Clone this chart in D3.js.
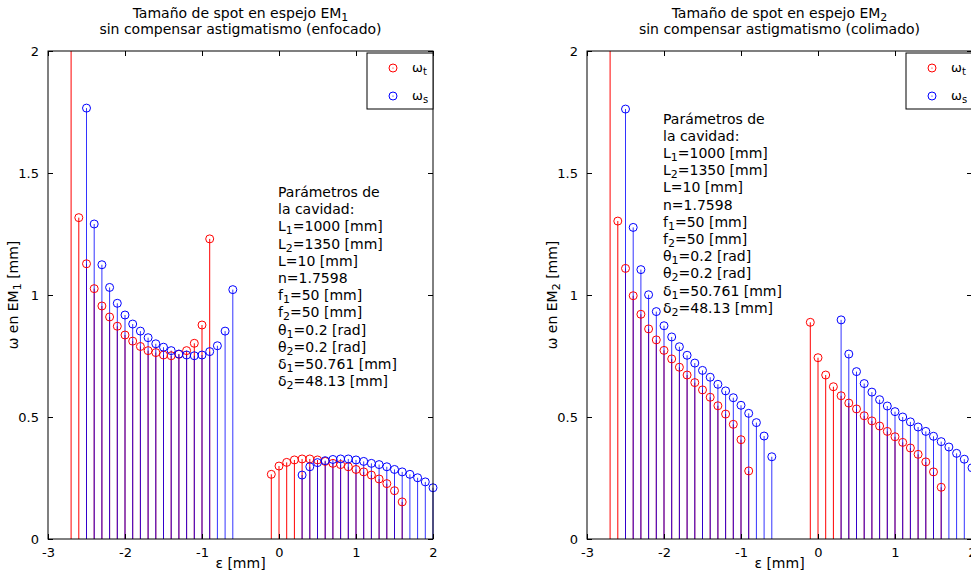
<!DOCTYPE html>
<html>
<head>
<meta charset="utf-8">
<script src="https://cdn.jsdelivr.net/npm/d3@7"></script>
<style>
	body { margin: 0; background: #fff; }
	text { font-family: "DejaVu Sans", sans-serif; fill: #000; }
</style>
</head>
<body>
<script>
"use strict";

// ε [mm] vs ω [mm], two panels (EM1 focused, EM2 collimated)
const xTicks = [-3, -2, -1, 0, 1, 2];
const yTicks = [0, 0.5, 1, 1.5, 2];

const em1Tangential = [
	[-2.7, 2.6], [-2.6, 1.317], [-2.5, 1.128], [-2.4, 1.026], [-2.3, 0.955], [-2.2, 0.91],
	[-2.1, 0.872], [-2.0, 0.836], [-1.9, 0.811], [-1.8, 0.789], [-1.7, 0.772], [-1.6, 0.764],
	[-1.5, 0.754], [-1.4, 0.751], [-1.3, 0.757], [-1.2, 0.772], [-1.1, 0.802], [-1.0, 0.877],
	[-0.9, 1.23],
	[-0.1, 0.265], [0.0, 0.299], [0.1, 0.314], [0.2, 0.324], [0.3, 0.328], [0.4, 0.328],
	[0.5, 0.324], [0.6, 0.318], [0.7, 0.31], [0.8, 0.305], [0.9, 0.296], [1.0, 0.285],
	[1.1, 0.275], [1.2, 0.262], [1.3, 0.246], [1.4, 0.227], [1.5, 0.198], [1.6, 0.152]
];
const em1Sagittal = [
	[-2.5, 1.766], [-2.4, 1.291], [-2.3, 1.124], [-2.2, 1.031], [-2.1, 0.966], [-2.0, 0.918],
	[-1.9, 0.881], [-1.8, 0.852], [-1.7, 0.825], [-1.6, 0.8], [-1.5, 0.786], [-1.4, 0.772],
	[-1.3, 0.758], [-1.2, 0.754], [-1.1, 0.751], [-1.0, 0.754], [-0.9, 0.768], [-0.8, 0.792],
	[-0.7, 0.852], [-0.6, 1.022],
	[0.3, 0.262], [0.4, 0.296], [0.5, 0.313], [0.6, 0.321], [0.7, 0.326], [0.8, 0.328],
	[0.9, 0.328], [1.0, 0.324], [1.1, 0.318], [1.2, 0.31], [1.3, 0.305], [1.4, 0.296],
	[1.5, 0.285], [1.6, 0.275], [1.7, 0.265], [1.8, 0.251], [1.9, 0.234], [2.0, 0.21]
];
const em2Tangential = [
	[-2.7, 2.6], [-2.6, 1.303], [-2.5, 1.109], [-2.4, 0.997], [-2.3, 0.921], [-2.2, 0.861],
	[-2.1, 0.816], [-2.0, 0.773], [-1.9, 0.738], [-1.8, 0.704], [-1.7, 0.672], [-1.6, 0.641],
	[-1.5, 0.611], [-1.4, 0.581], [-1.3, 0.546], [-1.2, 0.512], [-1.1, 0.47], [-1.0, 0.407],
	[-0.9, 0.279],
	[-0.1, 0.888], [0.0, 0.743], [0.1, 0.672], [0.2, 0.624], [0.3, 0.587], [0.4, 0.557],
	[0.5, 0.533], [0.6, 0.505], [0.7, 0.484], [0.8, 0.463], [0.9, 0.441], [1.0, 0.419],
	[1.1, 0.396], [1.2, 0.373], [1.3, 0.347], [1.4, 0.316], [1.5, 0.275], [1.6, 0.212]
];
const em2Sagittal = [
	[-2.5, 1.762], [-2.4, 1.277], [-2.3, 1.104], [-2.2, 1.001], [-2.1, 0.932], [-2.0, 0.874],
	[-1.9, 0.828], [-1.8, 0.788], [-1.7, 0.753], [-1.6, 0.721], [-1.5, 0.691], [-1.4, 0.663],
	[-1.3, 0.634], [-1.2, 0.607], [-1.1, 0.579], [-1.0, 0.548], [-0.9, 0.515], [-0.8, 0.477],
	[-0.7, 0.422], [-0.6, 0.337],
	[0.3, 0.898], [0.4, 0.758], [0.5, 0.686], [0.6, 0.637], [0.7, 0.602], [0.8, 0.571],
	[0.9, 0.545], [1.0, 0.522], [1.1, 0.5], [1.2, 0.48], [1.3, 0.459], [1.4, 0.441],
	[1.5, 0.421], [1.6, 0.399], [1.7, 0.377], [1.8, 0.351], [1.9, 0.327], [2.0, 0.292]
];

// "_" marks a one-character subscript
const paramLines = [
	"Parámetros de", "la cavidad:", "L_1=1000 [mm]", "L_2=1350 [mm]", "L=10 [mm]", "n=1.7598",
	"f_1=50 [mm]", "f_2=50 [mm]", "θ_1=0.2 [rad]", "θ_2=0.2 [rad]", "δ_1=50.761 [mm]", "δ_2=48.13 [mm]"
];

const panels = [
	{ left: 48, title: "Tamaño de spot en espejo EM_1", subtitle: "sin compensar astigmatismo (enfocado)",
		ylabel: "ω en EM_1 [mm]", t: em1Tangential, s: em1Sagittal, note: { x: 278, y: 197 } },
	{ left: 587, title: "Tamaño de spot en espejo EM_2", subtitle: "sin compensar astigmatismo (colimado)",
		ylabel: "ω en EM_2 [mm]", t: em2Tangential, s: em2Sagittal, note: { x: 663, y: 123.5 } }
];

const plotW = 385, yTop = 51, yBottom = 539;
const tickLen = 5;

const svg = d3.select("body")
				.append("svg")
				.attr("width", 971)
				.attr("height", 575);

function richText(sel, str, subSize) {
	const parts = str.split(/_(.)/);
	parts.forEach((p, i) => {
		if (p === "") return;
		if (i % 2 === 1) {
			sel.append("tspan").attr("dy", 3).style("font-size", subSize + "px").text(p);
		} else {
			const t = sel.append("tspan").text(p);
			if (i > 0) t.attr("dy", -3);
		}
	});
}

panels.forEach((p, k) => {
	const x = d3.scaleLinear().domain([-3, 2]).range([p.left, p.left + plotW]);
	const y = d3.scaleLinear().domain([0, 2]).range([yBottom, yTop]);
	const g = svg.append("g");

	g.append("clipPath")
		.attr("id", "clip" + k)
		.append("rect")
			.attr("x", p.left - 10)
			.attr("y", yTop)
			.attr("width", plotW + 20)
			.attr("height", yBottom - yTop + 10);

	const marks = g.append("g").attr("clip-path", `url(#clip${k})`);
	[[p.t, "#ff0000", 1], [p.s, "#0000ff", 0.8]].forEach(([data, color, op]) => {
		marks.append("g")
			.selectAll("line")
			.data(data)
			.join("line")
				.attr("x1", d => x(d[0]))
				.attr("x2", d => x(d[0]))
				.attr("y1", y(0))
				.attr("y2", d => y(d[1]))
				.attr("stroke", color)
				.attr("stroke-opacity", op)
				.attr("stroke-width", 1);
	});
	[[p.t, "#ff0000"], [p.s, "#0000ff"]].forEach(([data, color]) => {
		marks.append("g")
			.selectAll("circle")
			.data(data)
			.join("circle")
				.attr("cx", d => x(d[0]))
				.attr("cy", d => y(d[1]))
				.attr("r", 4)
				.attr("fill", "none")
				.attr("stroke", color)
				.attr("stroke-width", 1);
	});

	// axes box with inward ticks on all sides
	g.append("rect")
		.attr("x", p.left)
		.attr("y", yTop)
		.attr("width", plotW)
		.attr("height", yBottom - yTop)
		.attr("fill", "none")
		.attr("stroke", "#000");

	g.append("g")
		.attr("transform", `translate(0,${yBottom})`)
		.call(d3.axisBottom(x).tickValues(xTicks).tickSize(-tickLen).tickPadding(9).tickFormat(d => String(d)))
		.call(a => a.select(".domain").remove())
		.call(a => a.selectAll("text").style("font-size", "13px").style("font-family", "DejaVu Sans"));
	g.append("g")
		.attr("transform", `translate(0,${yTop})`)
		.call(d3.axisTop(x).tickValues(xTicks).tickSize(-tickLen).tickFormat(""))
		.call(a => a.select(".domain").remove());
	g.append("g")
		.attr("transform", `translate(${p.left},0)`)
		.call(d3.axisLeft(y).tickValues(yTicks).tickSize(-tickLen).tickPadding(9).tickFormat(d => String(d)))
		.call(a => a.select(".domain").remove())
		.call(a => a.selectAll("text").style("font-size", "13px").style("font-family", "DejaVu Sans"));
	g.append("g")
		.attr("transform", `translate(${p.left + plotW},0)`)
		.call(d3.axisRight(y).tickValues(yTicks).tickSize(-tickLen).tickFormat(""))
		.call(a => a.select(".domain").remove());

	const cx = p.left + plotW / 2;
	const title = g.append("text")
		.attr("x", cx)
		.attr("y", 18)
		.attr("text-anchor", "middle")
		.style("font-size", "14px");
	richText(title, p.title, 11);
	g.append("text")
		.attr("x", cx)
		.attr("y", 34)
		.attr("text-anchor", "middle")
		.style("font-size", "14px")
		.text(p.subtitle);

	g.append("text")
		.attr("x", cx)
		.attr("y", 568)
		.attr("text-anchor", "middle")
		.style("font-size", "14px")
		.text("ε [mm]");

	const yl = g.append("text")
		.attr("transform", `translate(${p.left - 30},${(yTop + yBottom) / 2}) rotate(-90)`)
		.attr("text-anchor", "middle")
		.style("font-size", "14px");
	richText(yl, p.ylabel, 11);

	// parameter block
	paramLines.forEach((line, i) => {
		const t = g.append("text")
			.attr("x", p.note.x)
			.attr("y", p.note.y + i * 17.2)
			.style("font-size", "14px");
		richText(t, line, 11);
	});

	// legend
	const lx = p.left + plotW - 66;
	const legend = g.append("g");
	legend.append("rect")
		.attr("x", lx)
		.attr("y", 53)
		.attr("width", 66)
		.attr("height", 56)
		.attr("fill", "#fff")
		.attr("stroke", "#000");
	[["ω_t", "#ff0000", 68], ["ω_s", "#0000ff", 96]].forEach(([lab, color, ly]) => {
		legend.append("circle")
			.attr("cx", lx + 26)
			.attr("cy", ly)
			.attr("r", 4)
			.attr("fill", "none")
			.attr("stroke", color);
		legend.append("circle")
			.attr("cx", lx + 26)
			.attr("cy", ly)
			.attr("r", 0.6)
			.attr("fill", color);
		const t = legend.append("text")
			.attr("x", lx + 45)
			.attr("y", ly + 4)
			.style("font-size", "13px");
		richText(t, lab, 10);
	});
});
</script>
</body>
</html>
